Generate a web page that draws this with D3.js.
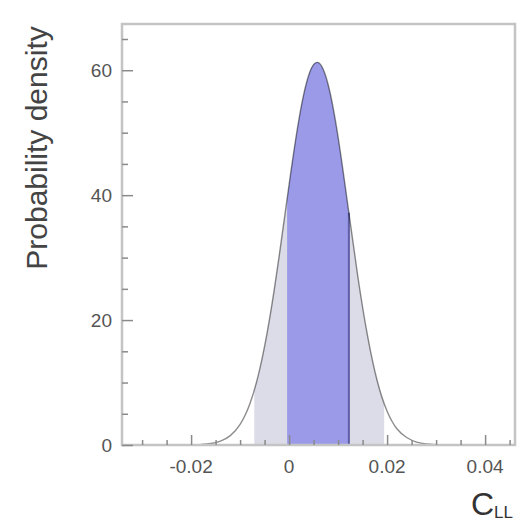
<!DOCTYPE html>
<html>
<head>
<meta charset="utf-8">
<script src="https://cdn.jsdelivr.net/npm/d3@7"></script>
<style>
  html, body { margin: 0; padding: 0; background: #fff; }
  svg { display: block; }
  text { font-family: "Liberation Sans", Arial, sans-serif; }
</style>
</head>
<body>
<svg id="chart" width="520" height="525"></svg>
<script>
// Posterior density of C_LL, sampled on a regular grid
const cllValues = [-0.018, -0.016, -0.014, -0.012, -0.010, -0.008, -0.006, -0.004, -0.002,
  0.000, 0.002, 0.004, 0.006, 0.008, 0.010, 0.012, 0.014, 0.016, 0.018, 0.020,
  0.022, 0.024, 0.026, 0.028, 0.030];
const densityValues = [0.08, 0.23, 0.62, 1.5, 3.3, 6.6, 12.1, 20.1, 30.4,
  41.7, 52.1, 59.2, 61.2, 57.6, 49.3, 38.3, 27.1, 17.5, 10.2, 5.4,
  2.6, 1.2, 0.47, 0.17, 0.06];

// Credible intervals (outer: wide band, inner: core band)
const outerInterval = [-0.0071, 0.0194];
const innerInterval = [-0.0004, 0.0122];

const xMajorTicks = [-0.02, 0, 0.02, 0.04];
const xTickLabels = ["-0.02", "0", "0.02", "0.04"];
const yMajorTicks = [0, 20, 40, 60];
const yTickLabels = ["0", "20", "40", "60"];

const xDomain = [-0.0341, 0.0461];
const yDomain = [0, 67.4];

const svg = d3.select("#chart");
const plotLeft = 122, plotRight = 515, plotTop = 24, plotBottom = 445;

const x = d3.scaleLinear().domain(xDomain).range([plotLeft, plotRight]);
const y = d3.scaleLinear().domain(yDomain).range([plotBottom, plotTop]);

const pts = cllValues.map((c, i) => ({ c, d: densityValues[i] }));

const area = d3.area()
  .x(p => x(p.c))
  .y0(y(0))
  .y1(p => y(p.d))
  .curve(d3.curveNatural);
const line = d3.line()
  .x(p => x(p.c))
  .y(p => y(p.d))
  .curve(d3.curveNatural);

const defs = svg.append("defs");
function band(id, lo, hi) {
  defs.append("clipPath").attr("id", id)
    .append("rect")
    .attr("x", x(lo)).attr("y", plotTop)
    .attr("width", x(hi) - x(lo)).attr("height", plotBottom - plotTop);
}
band("clip-outer", outerInterval[0], outerInterval[1]);
band("clip-inner", innerInterval[0], innerInterval[1]);

// shaded bands under the curve
svg.append("path").datum(pts)
  .attr("d", area)
  .attr("clip-path", "url(#clip-outer)")
  .attr("fill", "#dcdce8");
svg.append("path").datum(pts)
  .attr("d", area)
  .attr("clip-path", "url(#clip-inner)")
  .attr("fill", "#9a9ae8");

// right edge of the core band, up to the curve
const i0 = d3.bisectLeft(cllValues, innerInterval[1]) - 1;
const t = (innerInterval[1] - cllValues[i0]) / (cllValues[i0 + 1] - cllValues[i0]);
const edgeDensity = d3.interpolateNumber(densityValues[i0], densityValues[i0 + 1])(t);
svg.append("line")
  .attr("x1", x(innerInterval[1])).attr("x2", x(innerInterval[1]))
  .attr("y1", y(0))
  .attr("y2", y(edgeDensity))
  .attr("stroke", "#5e5ea6").attr("stroke-width", 2);

// density curve
svg.append("path").datum(pts)
  .attr("d", line)
  .attr("fill", "none")
  .attr("stroke", "#000")
  .attr("stroke-opacity", 0.45)
  .attr("stroke-width", 1.4);

// frame
svg.append("rect")
  .attr("x", plotLeft).attr("y", plotTop)
  .attr("width", plotRight - plotLeft).attr("height", plotBottom - plotTop)
  .attr("fill", "none")
  .attr("stroke", "#c4c4c4")
  .attr("stroke-width", 2.5);

const tickColor = "#8a8a8a";

// y axis ticks (inside the frame)
const yAxis = d3.axisRight(y)
  .tickValues(d3.range(0, 66, 5))
  .tickSize(6)
  .tickFormat("");
const gy = svg.append("g").attr("transform", `translate(${plotLeft},0)`).call(yAxis);
gy.select(".domain").remove();
gy.selectAll(".tick line")
  .attr("stroke", tickColor).attr("stroke-width", 1.5)
  .attr("x2", d => (d % 20 === 0 ? 11 : 6));

// x axis ticks (inside the frame)
const xAxis = d3.axisTop(x)
  .tickValues(d3.range(-6, 10).map(k => k * 0.005))
  .tickSize(6)
  .tickFormat("");
const gx = svg.append("g").attr("transform", `translate(0,${plotBottom})`).call(xAxis);
gx.select(".domain").remove();
gx.selectAll(".tick line")
  .attr("stroke", tickColor).attr("stroke-width", 1.5)
  .attr("y2", d => (Math.abs(Math.round(d * 1000)) % 20 === 0 ? -10 : -5));

// tick labels
svg.append("g").selectAll("text")
  .data(yMajorTicks)
  .join("text")
  .attr("x", plotLeft - 10)
  .attr("y", d => y(d))
  .attr("dy", "0.35em")
  .attr("text-anchor", "end")
  .attr("font-size", 19)
  .attr("fill", "#555")
  .text((d, i) => yTickLabels[i]);

svg.append("g").selectAll("text")
  .data(xMajorTicks)
  .join("text")
  .attr("x", d => x(d))
  .attr("y", 473)
  .attr("text-anchor", "middle")
  .attr("font-size", 19)
  .attr("fill", "#555")
  .text((d, i) => xTickLabels[i]);

// axis titles
svg.append("text")
  .attr("transform", "translate(47,148) rotate(-90)")
  .attr("text-anchor", "middle")
  .attr("font-size", 30)
  .attr("fill", "#444")
  .text("Probability density");

const xt = svg.append("text")
  .attr("x", 471)
  .attr("y", 515)
  .attr("font-size", 32)
  .attr("fill", "#333");
xt.append("tspan").text("C");
xt.append("tspan").attr("font-size", 17).attr("dy", 3).text("LL");
</script>
</body>
</html>
